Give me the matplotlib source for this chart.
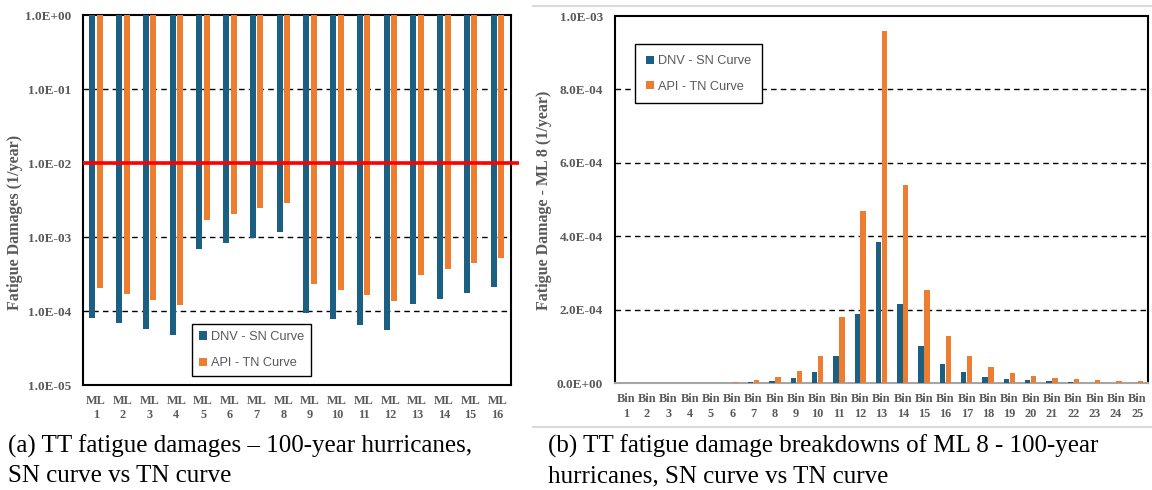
import matplotlib
matplotlib.use("Agg")
import matplotlib.pyplot as plt
from matplotlib.lines import Line2D
from matplotlib.ticker import FixedLocator, FuncFormatter, NullLocator
import numpy as np

# ---------------- data ----------------
ml_labels = ["ML\n1", "ML\n2", "ML\n3", "ML\n4", "ML\n5", "ML\n6", "ML\n7", "ML\n8",
             "ML\n9", "ML\n10", "ML\n11", "ML\n12", "ML\n13", "ML\n14", "ML\n15", "ML\n16"]
dnv_ml = [8.0e-5, 6.9e-5, 5.8e-5, 4.8e-5, 6.9e-4, 8.2e-4, 9.7e-4, 1.17e-3,
          9.4e-5, 7.9e-5, 6.5e-5, 5.5e-5, 1.24e-4, 1.47e-4, 1.75e-4, 2.1e-4]
api_ml = [2.05e-4, 1.7e-4, 1.42e-4, 1.2e-4, 1.7e-3, 2.05e-3, 2.44e-3, 2.93e-3,
          2.32e-4, 1.95e-4, 1.65e-4, 1.35e-4, 3.07e-4, 3.7e-4, 4.4e-4, 5.2e-4]
damage_limit = 1.0e-2

bin_labels = ["Bin\n1", "Bin\n2", "Bin\n3", "Bin\n4", "Bin\n5", "Bin\n6", "Bin\n7",
              "Bin\n8", "Bin\n9", "Bin\n10", "Bin\n11", "Bin\n12", "Bin\n13",
              "Bin\n14", "Bin\n15", "Bin\n16", "Bin\n17", "Bin\n18", "Bin\n19",
              "Bin\n20", "Bin\n21", "Bin\n22", "Bin\n23", "Bin\n24", "Bin\n25"]
dnv_bin = [0, 0, 0, 0, 0.5e-6, 1.5e-6, 3e-6, 7e-6, 1.36e-5, 3.0e-5, 7.3e-5, 1.89e-4,
           3.85e-4, 2.16e-4, 1.02e-4, 5.2e-5, 3.1e-5, 1.7e-5, 1.2e-5, 8e-6, 6e-6,
           4e-6, 2e-6, 1e-6, 1e-6]
api_bin = [0, 0, 0, 0, 1.5e-6, 3e-6, 9e-6, 1.7e-5, 3.4e-5, 7.5e-5, 1.80e-4, 4.69e-4,
           9.58e-4, 5.40e-4, 2.53e-4, 1.29e-4, 7.5e-5, 4.4e-5, 2.8e-5, 2.0e-5, 1.4e-5,
           1.2e-5, 9e-6, 6e-6, 5e-6]

series_names = ["DNV - SN Curve", "API - TN Curve"]
caption_a = ["(a) TT fatigue damages \u2013 100-year hurricanes,",
             "SN curve vs TN curve"]
caption_b = ["(b) TT fatigue damage breakdowns of ML 8 - 100-year",
             "hurricanes, SN curve vs TN curve"]

# ---------------- style ----------------
BLUE = "#1B5F82"
ORANGE = "#ED7D31"
GRAY_TXT = "#595959"
SERIF = ["Liberation Serif", "DejaVu Serif"]
SANS = ["Liberation Sans", "DejaVu Sans"]

W, H = 1152, 490
fig = plt.figure(figsize=(W / 100, H / 100), dpi=100)


def px_axes(x0, y0, x1, y1):
    return fig.add_axes([x0 / W, 1 - y1 / H, (x1 - x0) / W, (y1 - y0) / H])


def sci(v, _pos=None):
    return "%.1E" % v


def style_axes(ax):
    for s in ax.spines.values():
        s.set_color("black")
        s.set_linewidth(1.5)
    ax.tick_params(axis="both", length=0)
    ax.tick_params(axis="y", pad=8.5)
    ax.tick_params(axis="x", pad=7)
    for lab in ax.get_yticklabels():
        lab.set_fontfamily(SERIF)
        lab.set_fontweight("bold")
        lab.set_fontsize(9.5)
        lab.set_color(GRAY_TXT)
    for lab in ax.get_xticklabels():
        lab.set_fontfamily(SERIF)
        lab.set_fontweight("bold")
        lab.set_fontsize(8.8)
        lab.set_color(GRAY_TXT)
        lab.set_linespacing(1.3)


def add_legend(ax, handles, pad, spacing, **kw):
    leg = ax.legend(handles, series_names, frameon=True, fancybox=False,
                    edgecolor="black", facecolor="white", framealpha=1.0,
                    handlelength=0.6, handleheight=0.6,
                    handletextpad=0.35, labelspacing=spacing, borderpad=pad,
                    prop={"family": SANS, "size": 9.2}, labelcolor=GRAY_TXT,
                    borderaxespad=0, **kw)
    leg.get_frame().set_linewidth(1.0)
    leg.set_zorder(10)
    return leg


# ---------------- (a) damages per mooring line, log axis ----------------
ax1 = px_axes(82.7, 15.3, 510.7, 385)
x1 = np.arange(len(ml_labels))
top = 1.0
bw1, off1 = 0.22, 0.14
ax1.set_yscale("log")
ax1.set_ylim(1e-5, top)
ax1.set_xlim(-0.5, len(ml_labels) - 0.5)
dnv_a = np.array(dnv_ml)
api_a = np.array(api_ml)
b1 = ax1.bar(x1 - off1, top - dnv_a, bottom=dnv_a, width=bw1, color=BLUE, zorder=3)
b2 = ax1.bar(x1 + off1, top - api_a, bottom=api_a, width=bw1, color=ORANGE, zorder=3)
ax1.yaxis.set_major_locator(FixedLocator([1e-5, 1e-4, 1e-3, 1e-2, 1e-1, 1e0]))
ax1.yaxis.set_minor_locator(NullLocator())
ax1.yaxis.set_major_formatter(FuncFormatter(sci))
ax1.set_xticks(x1)
ax1.set_xticklabels(ml_labels)
for g in [1e-4, 1e-3, 1e-2, 1e-1]:
    ax1.axhline(g, color="black", lw=1.0, ls=(0, (4, 3)), zorder=1)
ax1.plot([-0.5, len(ml_labels) - 0.2], [damage_limit, damage_limit],
         color="#FF0000", lw=2.6, zorder=5, clip_on=False, solid_capstyle="butt")
style_axes(ax1)
add_legend(ax1, [b1, b2], pad=0.55, spacing=1.1,
           loc="lower left", bbox_to_anchor=(0.255, 0.024))
fig.text(15 / W, 1 - 222 / H, "Fatigue Damages (1/year)", rotation=90,
         ha="center", va="center", family=SERIF, weight="bold", size=11.5,
         color=GRAY_TXT)

# ---------------- (b) damage breakdown per bin, linear axis ----------------
ax2 = px_axes(615, 16, 1148, 383.3)
x2 = np.arange(len(bin_labels))
bw2, off2 = 0.25, 0.14
b3 = ax2.bar(x2 - off2, dnv_bin, width=bw2, color=BLUE, zorder=3)
b4 = ax2.bar(x2 + off2, api_bin, width=bw2, color=ORANGE, zorder=3)
ax2.set_ylim(0, 1.0e-3)
ax2.set_xlim(-0.5, len(bin_labels) - 0.5)
ax2.yaxis.set_major_locator(FixedLocator(np.arange(0, 1.0e-3 + 1e-9, 2e-4)))
ax2.yaxis.set_major_formatter(FuncFormatter(sci))
ax2.set_xticks(x2)
ax2.set_xticklabels(bin_labels)
for g in [2e-4, 4e-4, 6e-4, 8e-4]:
    ax2.axhline(g, color="black", lw=1.0, ls=(0, (4, 3)), zorder=1)
style_axes(ax2)
ax2.spines["bottom"].set_color("#A6A6A6")
add_legend(ax2, [b3, b4], pad=0.85, spacing=1.05,
           loc="upper left", bbox_to_anchor=(0.0375, 0.923))
fig.text(543.5 / W, 1 - 200 / H, "Fatigue Damage - ML 8 (1/year)", rotation=90,
         ha="center", va="center", family=SERIF, weight="bold", size=11.5,
         color=GRAY_TXT)

# light frame lines around panel (b)
for yy in (6, 426.5):
    fig.add_artist(Line2D([533 / W, 1.0], [1 - yy / H, 1 - yy / H],
                          transform=fig.transFigure, color="#D9D9D9", lw=1.5))

# ---------------- captions ----------------
for xpx, lines in ((8, caption_a), (548, caption_b)):
    for ypx, s in zip((453, 482), lines):
        fig.text(xpx / W, 1 - ypx / H, s, ha="left", va="baseline",
                 family=SERIF, size=18, color="black")

fig.savefig("out.png", dpi=100, facecolor="white")
